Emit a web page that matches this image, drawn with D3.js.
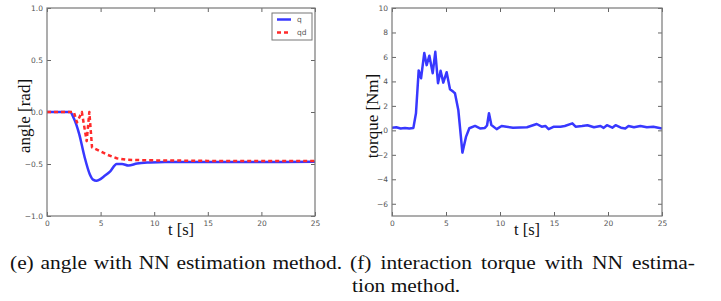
<!DOCTYPE html>
<html>
<head>
<meta charset="utf-8">
<script src="https://cdn.jsdelivr.net/npm/d3@7"></script>
<style>
  body { margin: 0; background: #fff; }
  svg { display: block; }
  .tick text { font-family: "DejaVu Sans", sans-serif; font-size: 7.5px; fill: #555; }
  text.lbl { font-family: "Liberation Serif", "Times New Roman", Times, serif; fill: #111; }
</style>
</head>
<body>
<svg id="chart" width="721" height="301"></svg>
<script>
// angle plot (e)
const angleT  = [0, 1, 2, 2.15, 2.5, 3.0, 3.5, 4.0, 4.3, 4.6, 4.9, 5.3, 5.9, 6.5, 7.0, 7.6, 8.4, 9.6, 11, 15, 20, 25];
const angleQ  = [0, 0, 0, 0, -0.06, -0.21, -0.43, -0.6, -0.65, -0.66, -0.65, -0.62, -0.57, -0.5, -0.5, -0.515, -0.495, -0.485, -0.48, -0.48, -0.48, -0.478];
const qdT     = [0, 1, 2, 2.5, 2.8, 3.25, 3.7, 3.95, 4.2, 4.8, 5.6, 6.5, 7.5, 10, 15, 20, 25];
const qdVals  = [0, 0, 0, 0, -0.1, 0, -0.28, 0, -0.34, -0.37, -0.41, -0.445, -0.46, -0.465, -0.47, -0.47, -0.47];

// torque plot (f)
const torqueT = [0, 0.4, 0.8, 1.2, 1.6, 1.98, 2.22, 2.47, 2.69, 2.99, 3.21, 3.46, 3.77, 4.01, 4.26, 4.5, 4.75, 5.06, 5.37, 5.68, 5.83,
                 6.14, 6.52, 6.86, 7.16, 7.69, 8.15, 8.6, 8.8, 8.98, 9.2, 9.69, 10.15, 10.6, 11.2, 12.5, 13.4, 13.86, 14.2, 14.5,
                 15, 15.6, 16, 16.7, 17, 17.6, 18.1, 18.7, 19.3, 19.6, 19.9, 20.4, 20.7, 21.2, 21.6, 21.9, 22.4, 23, 23.6, 24.2, 25];
const torqueV = [0.22, 0.25, 0.15, 0.2, 0.15, 0.2, 1.4, 4.9, 4.26, 6.33, 5.33, 6.1, 4.67, 6.42, 3.85, 4.87, 3.9, 4.75, 3.36, 3.15, 3.03,
                 1.67, -1.82, -0.51, 0.17, 0.36, 0.16, 0.2, 0.4, 1.4, 0.43, 0.1, 0.36, 0.3, 0.22, 0.25, 0.52, 0.3, 0.36, 0.1,
                 0.3, 0.3, 0.36, 0.57, 0.3, 0.35, 0.42, 0.25, 0.36, 0.2, 0.42, 0.22, 0.42, 0.22, 0.16, 0.35, 0.25, 0.36, 0.25, 0.3, 0.15];

const xTicks = [0, 5, 10, 15, 20, 25];
const angleTicks = [-1.0, -0.5, 0.0, 0.5, 1.0];
const torqueTicks = [-6, -4, -2, 0, 2, 4, 6, 8, 10];

const captionE = "(e) angle with NN estimation method.";
const captionF1 = "(f) interaction torque with NN estima-";
const captionF2 = "tion method.";

const svg = d3.select('#chart');
const blue = '#3838ff';
const red = '#ff2a2a';
const serif = '"Liberation Serif", "Times New Roman", Times, serif';

const minus = s => s.replace('-', '\u2212');

function panel(opts) {
    const g = svg.append('g');
    const x = d3.scaleLinear().domain([0, 25]).range([opts.left, opts.right]);
    const y = d3.scaleLinear().domain(opts.yDomain).range([opts.bottom, opts.top]);

    // ticks point inward, on all four sides
    const tick = 4;
    const grey = a => a.selectAll('line').attr('stroke', '#666');
    g.append('g')
        .attr('transform', `translate(0,${opts.bottom})`)
        .call(d3.axisBottom(x).tickValues(xTicks).tickSizeInner(-tick).tickSizeOuter(0).tickPadding(5).tickFormat(d3.format('d')))
        .call(a => a.select('.domain').remove())
        .call(grey);
    g.append('g')
        .attr('transform', `translate(0,${opts.top})`)
        .call(d3.axisTop(x).tickValues(xTicks).tickSizeInner(-tick).tickSizeOuter(0).tickFormat(''))
        .call(a => a.select('.domain').remove())
        .call(grey);
    g.append('g')
        .attr('transform', `translate(${opts.left},0)`)
        .call(d3.axisLeft(y).tickValues(opts.yTicks).tickSizeInner(-tick).tickSizeOuter(0).tickPadding(4)
            .tickFormat(d => minus(opts.yFormat(d))))
        .call(a => a.select('.domain').remove())
        .call(grey);
    g.append('g')
        .attr('transform', `translate(${opts.right},0)`)
        .call(d3.axisRight(y).tickValues(opts.yTicks).tickSizeInner(-tick).tickSizeOuter(0).tickFormat(''))
        .call(a => a.select('.domain').remove())
        .call(grey);

    const clipId = 'clip' + opts.left;
    svg.append('clipPath').attr('id', clipId)
        .append('rect').attr('x', opts.left).attr('y', opts.top)
        .attr('width', opts.right - opts.left).attr('height', opts.bottom - opts.top);

    opts.series.forEach(s => {
        const line = d3.line().x(d => x(d[0])).y(d => y(d[1])).curve(s.curve || d3.curveMonotoneX);
        g.append('path')
            .datum(s.t.map((t, i) => [t, s.v[i]]))
            .attr('clip-path', `url(#${clipId})`)
            .attr('fill', 'none')
            .attr('stroke', s.color)
            .attr('stroke-width', 2.5)
            .attr('stroke-linejoin', 'round')
            .attr('stroke-dasharray', s.dash || null)
            .attr('d', line);
    });

    g.append('rect')
        .attr('x', opts.left).attr('y', opts.top)
        .attr('width', opts.right - opts.left).attr('height', opts.bottom - opts.top)
        .attr('fill', 'none').attr('stroke', '#777').attr('stroke-width', 1.2);

    g.append('text').attr('class', 'lbl').style('font-family', serif)
        .attr('x', (opts.left + opts.right) / 2).attr('y', opts.bottom + 19)
        .attr('text-anchor', 'middle').attr('font-size', 16.5)
        .text('t [s]');
    g.append('text').attr('class', 'lbl').style('font-family', serif)
        .attr('transform', `translate(${opts.yLabelX},${(opts.top + opts.bottom) / 2 + 4}) rotate(-90)`)
        .attr('text-anchor', 'middle').attr('font-size', 17)
        .text(opts.yLabel);
    return { x, y, g };
}

const left = panel({
    left: 47, right: 315, top: 8, bottom: 216,
    yDomain: [-1, 1], yTicks: angleTicks, yFormat: d3.format('.1f'),
    yLabel: 'angle [rad]', yLabelX: 30,
    series: [
        { t: angleT, v: angleQ, color: blue },
        { t: qdT, v: qdVals, color: red, dash: '4,3', curve: d3.curveLinear }
    ]
});

panel({
    left: 392, right: 662, top: 8, bottom: 216,
    yDomain: [-7, 10], yTicks: torqueTicks, yFormat: d3.format('d'),
    yLabel: 'torque [Nm]', yLabelX: 378,
    series: [
        { t: torqueT, v: torqueV, color: blue, curve: d3.curveLinear }
    ]
});

// legend
const lg = left.g.append('g').attr('transform', 'translate(272,13)');
lg.append('rect').attr('width', 40).attr('height', 27)
    .attr('fill', '#fff').attr('stroke', '#777').attr('stroke-width', 1);
[{ name: 'q', color: blue, dash: null }, { name: 'qd', color: red, dash: '4,3' }].forEach((d, i) => {
    const yy = 6.5 + i * 13;
    lg.append('line').attr('x1', 5).attr('x2', 19).attr('y1', yy).attr('y2', yy)
        .attr('stroke', d.color).attr('stroke-width', 2.5).attr('stroke-dasharray', d.dash);
    lg.append('text').attr('x', 25).attr('y', yy + 2.5)
        .attr('font-family', 'DejaVu Sans, sans-serif').attr('font-size', 7.5).attr('fill', '#555')
        .text(d.name);
});

// captions: glyphs a little wider than the font, justified lines get the rest in word gaps
const stretch = 1.19;
const cap = [
    { text: captionE, x: 10, y: 269, w: 332 },
    { text: captionF1, x: 350, y: 269, w: 345 },
    { text: captionF2, x: 352, y: 292, w: null }
];
cap.forEach(c => {
    const t = svg.append('text').attr('class', 'lbl').style('font-family', serif)
        .attr('transform', `translate(${c.x},${c.y}) scale(${stretch},1)`)
        .attr('font-size', 18).text(c.text);
    if (c.w) {
        const natural = t.node().getComputedTextLength();
        const gaps = c.text.split(' ').length - 1;
        t.attr('word-spacing', Math.max(0, (c.w / stretch - natural) / gaps));
    }
});
</script>
</body>
</html>
